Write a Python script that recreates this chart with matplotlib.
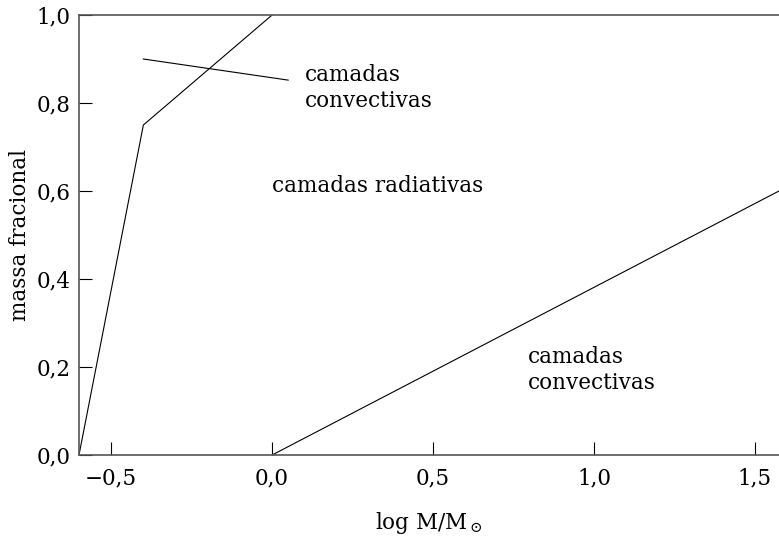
import numpy as np
import matplotlib
matplotlib.use("Agg")
import matplotlib.pyplot as plt

# fronteira entre envoltorio convectivo e radiativo (estrelas de baixa massa)
env_logm = [-0.6, -0.4, 0.0]
env_mfrac = [0.0, 0.75, 1.0]

# fronteira do nucleo convectivo (estrelas de alta massa)
core_logm = [0.0, 1.575]
core_mfrac = [0.0, 0.60]

# linha indicadora do rotulo superior
ptr_logm = [-0.4, 0.05]
ptr_mfrac = [0.90, 0.852]

xticks = [-0.5, 0.0, 0.5, 1.0, 1.5]
xticklabels = ["\u22120,5", "0,0", "0,5", "1,0", "1,5"]
yticks = [0.0, 0.2, 0.4, 0.6, 0.8, 1.0]
yticklabels = ["0,0", "0,2", "0,4", "0,6", "0,8", "1,0"]

plt.rcParams["font.family"] = ["DejaVu Serif"]
plt.rcParams["mathtext.fontset"] = "dejavuserif"

fig = plt.figure(figsize=(7.79, 5.43), dpi=100)
ax = fig.add_axes([79 / 779, 1 - 455 / 543, 1 - 79 / 779, 440 / 543])

ax.plot(env_logm, env_mfrac, color="black", lw=0.8)
ax.plot(core_logm, core_mfrac, color="black", lw=0.8)
ax.plot(ptr_logm, ptr_mfrac, color="black", lw=0.8)

ax.text(0.102, 0.834, "camadas\nconvectivas", fontsize=15.5, ha="left", va="center",
        linespacing=1.2)
ax.text(0.328, 0.612, "camadas radiativas", fontsize=15.5, ha="center", va="center")
ax.text(0.795, 0.193, "camadas\nconvectivas", fontsize=15.5, ha="left", va="center",
        linespacing=1.2)

ax.set_xlim(-0.6, 1.575)
ax.set_ylim(0.0, 1.0)
ax.set_xticks(xticks)
ax.set_xticklabels(xticklabels)
ax.set_yticks(yticks)
ax.set_yticklabels(yticklabels)
ax.tick_params(direction="in", length=9.5, width=0.8, labelsize=15.5, pad=9)
ax.tick_params(axis="y", pad=6)

ax.spines["right"].set_visible(False)
for s in ["left", "bottom", "top"]:
    ax.spines[s].set_linewidth(1.2)
    ax.spines[s].set_color("#555555")

ax.set_xlabel(r"log M/M$_\odot$", fontsize=15.5, labelpad=15)
ax.set_ylabel("massa fracional", fontsize=15.5, labelpad=4)

fig.savefig("out.png", dpi=100)
